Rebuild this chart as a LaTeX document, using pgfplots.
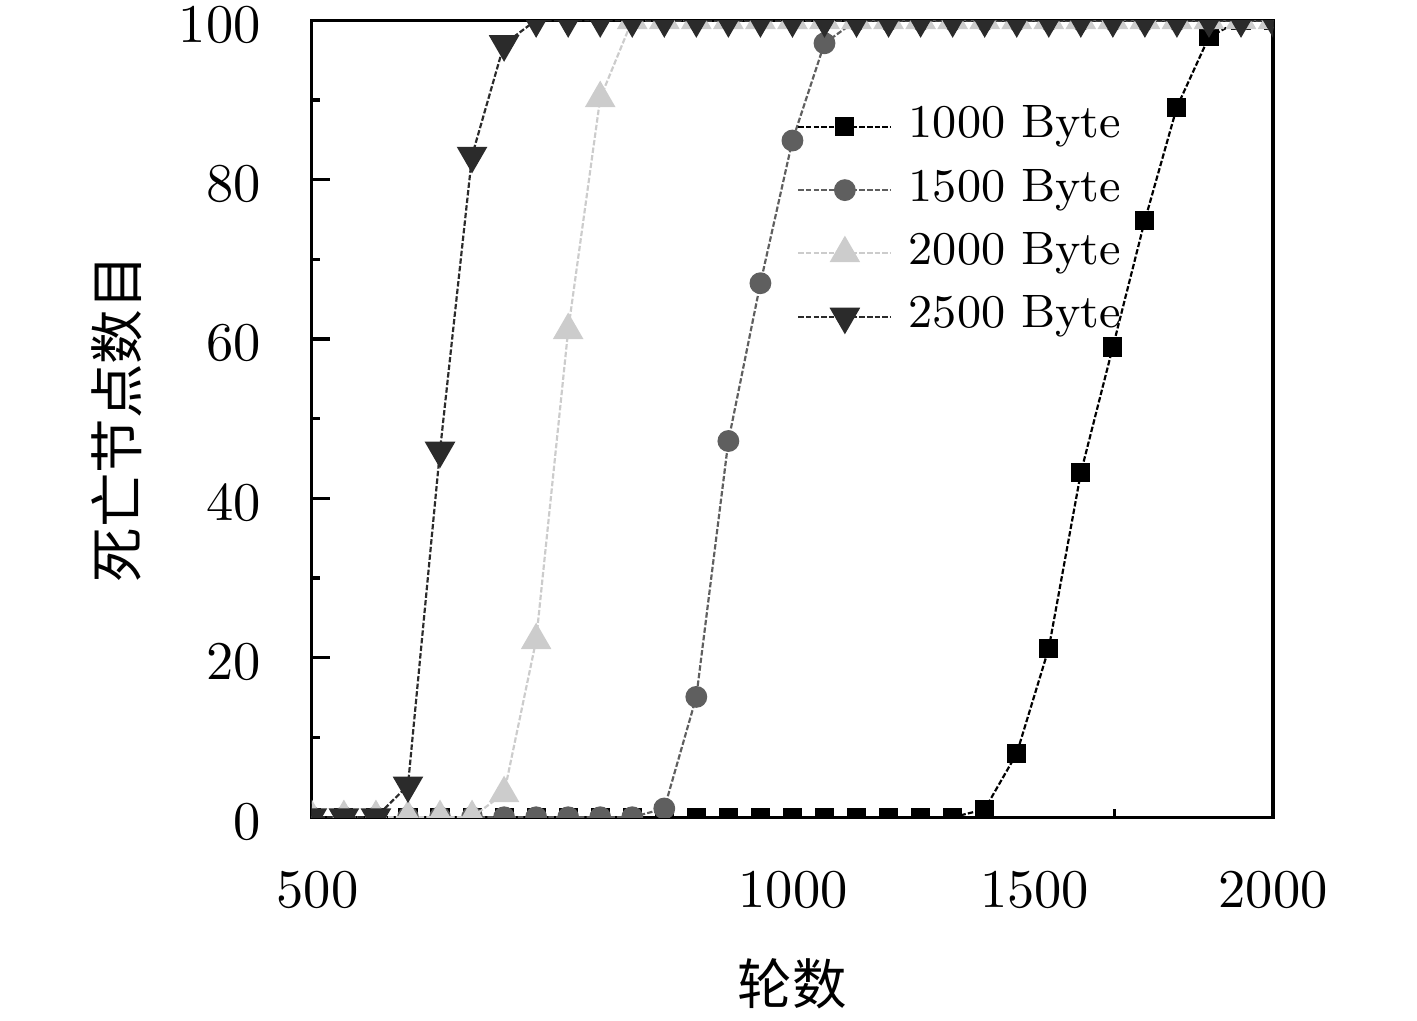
\documentclass[border=0pt]{standalone}
\usepackage{fontspec}
\usepackage{pgfplots}
\pgfplotsset{compat=1.18}
\newfontfamily\cjk{Noto Sans CJK SC}
\definecolor{cA}{RGB}{0,0,0}
\definecolor{cB}{RGB}{95,95,95}
\definecolor{cC}{RGB}{204,204,204}
\definecolor{cD}{RGB}{43,43,43}
\begin{document}
\begin{tikzpicture}
\begin{axis}[
  name=ax,
  scale only axis,
  width=176.3pt, height=146.2pt,
  xmin=500, xmax=2000, ymin=0, ymax=100,
  font=\fontsize{10}{12}\selectfont,
  xtick={509,1251,1628,2000},
  xticklabels={500,1000,1500,2000},
  minor xtick={1000,1500,1753},
  every major x tick/.append style={draw=none},
  xticklabel style={anchor=center, yshift=-13.3pt},
  ytick={0,20,40,60,80,100},
  minor ytick={10,30,50,70,90},
  yticklabel style={anchor=east, inner sep=0pt, xshift=-9.2pt, yshift=-0.8pt},
  xtick pos=bottom, ytick pos=left,
  tick align=inside,
  major tick length=3.3pt, minor tick length=1.5pt,
  every tick/.append style={line width=0.6pt, black},
  axis line style={line width=0.6pt},
  clip marker paths=true,
  xlabel={\cjk 轮数},
  xlabel style={at={(axis description cs:0.5,-0.2086)}, anchor=center},
  ylabel={\cjk 死亡节点数目},
  ylabel style={at={(axis description cs:-0.203,0.5)}, anchor=center},
  legend cell align=left,
  legend style={draw=none, fill=none, at={(rel axis cs:0.505,0.8935)}, anchor=north west,
    inner sep=0pt, outer sep=0pt, row sep=3.6pt, column sep=3pt,
    font=\fontsize{8.6}{10}\selectfont,
    nodes={inner sep=0pt, text height=6pt, text depth=2pt}},
]
\addplot[cA, line width=0.4pt, dash pattern=on 1pt off 0.4pt, mark=square*, mark size=1.55pt, mark options={solid}]
coordinates {(500,0)(550,0)(600,0)(650,0)(700,0)(750,0)(800,0)(850,0)(900,0)(950,0)(1000,0)(1050,0)(1100,0)(1150,0)(1200,0)(1250,0)(1300,0)(1350,0)(1400,0)(1450,0)(1500,0)(1550,1)(1600,8)(1650,21.2)(1700,43.2)(1750,59)(1800,74.9)(1850,89.1)(1900,97.9)(1950,100)(2000,100)};
\addlegendentry{1000 Byte}
\addplot[cB, line width=0.4pt, dash pattern=on 1pt off 0.4pt, mark=*, mark size=1.8pt, mark options={solid}]
coordinates {(500,0)(550,0)(600,0)(650,0)(700,0)(750,0)(800,0)(850,0)(900,0)(950,0)(1000,0)(1050,1.1)(1100,15.1)(1150,47.2)(1200,67)(1250,84.9)(1300,97.1)(1350,100)(1400,100)(1450,100)(1500,100)(1550,100)(1600,100)(1650,100)(1700,100)(1750,100)(1800,100)(1850,100)(1900,100)(1950,100)(2000,100)};
\addlegendentry{1500 Byte}
\addplot[cC, line width=0.4pt, dash pattern=on 1pt off 0.4pt, mark=triangle*, mark size=2.85pt, mark options={solid}]
coordinates {(500,0)(550,0)(600,0)(650,0)(700,0)(750,0)(800,3)(850,22.2)(900,61.1)(950,90.2)(1000,100)(1050,100)(1100,100)(1150,100)(1200,100)(1250,100)(1300,100)(1350,100)(1400,100)(1450,100)(1500,100)(1550,100)(1600,100)(1650,100)(1700,100)(1750,100)(1800,100)(1850,100)(1900,100)(1950,100)(2000,100)};
\addlegendentry{2000 Byte}
\addplot[cD, line width=0.4pt, dash pattern=on 1pt off 0.4pt, mark=triangle*, mark size=2.85pt, mark options={solid, rotate=180}]
coordinates {(500,0)(550,0)(600,0)(650,4)(700,46)(750,83)(800,97)(850,100)(900,100)(950,100)(1000,100)(1050,100)(1100,100)(1150,100)(1200,100)(1250,100)(1300,100)(1350,100)(1400,100)(1450,100)(1500,100)(1550,100)(1600,100)(1650,100)(1700,100)(1750,100)(1800,100)(1850,100)(1900,100)(1950,100)(2000,100)};
\addlegendentry{2500 Byte}
\end{axis}
\pgfresetboundingbox
\path[use as bounding box] ([xshift=-57.2pt,yshift=-37.2pt]ax.south west) rectangle ([xshift=26.4pt,yshift=3.7pt]ax.north east);
\end{tikzpicture}
\end{document}
